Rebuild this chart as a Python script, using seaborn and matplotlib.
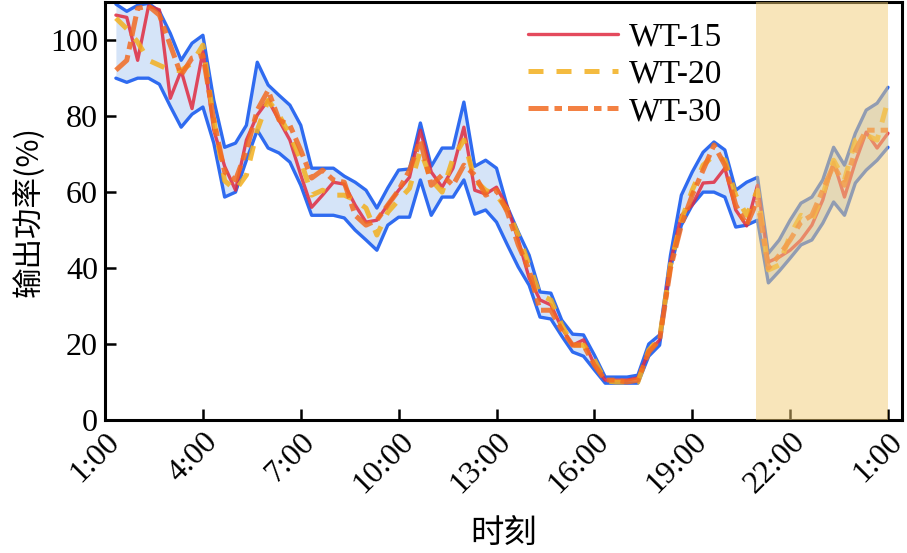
import numpy as np
import pandas as pd
import matplotlib
matplotlib.use("Agg")
import matplotlib.pyplot as plt
import seaborn as sns

# time in hours after 1:00, 20-minute steps from 1:20 to 1:00 next day
hours = [i / 3 for i in range(1, 73)]

upper = [109.5, 107.6, 109.2, 109.7, 107.6, 101.8, 94.7, 99.2, 101.3, 84.2,
         71.8, 72.9, 77.6, 94.2, 88.2, 85.5, 82.9, 77.6, 66.3, 66.3,
         66.3, 64.2, 62.6, 60.5, 55.8, 61.1, 65.8, 66.1, 78.2, 66.8,
         71.6, 71.6, 83.7, 66.8, 68.4, 66.3, 56.1, 49.5, 43.4, 33.7,
         33.4, 26.3, 22.6, 22.4, 17.1, 11.3, 11.3, 11.3, 11.8, 20.0,
         22.4, 43.4, 59.2, 65.3, 70.5, 73.2, 71.1, 60.5, 62.6, 63.9,
         43.9, 47.4, 52.6, 57.1, 58.7, 63.2, 71.8, 67.1, 75.5, 81.6,
         83.4, 87.6]

lower = [90.0, 88.9, 90.0, 90.0, 88.4, 82.6, 77.1, 80.5, 82.4, 72.9,
         58.7, 60.0, 68.4, 76.3, 71.6, 70.3, 67.9, 61.8, 53.9, 53.9,
         53.9, 53.2, 50.0, 47.4, 44.7, 51.3, 53.4, 53.4, 63.2, 53.9,
         58.7, 58.7, 63.2, 54.2, 55.3, 52.1, 46.1, 40.3, 35.5, 27.1,
         26.6, 22.1, 17.9, 16.8, 13.2, 9.7, 9.7, 9.7, 9.7, 16.8,
         19.7, 40.0, 51.3, 56.6, 60.0, 60.0, 58.7, 50.8, 51.3, 52.6,
         36.1, 39.2, 42.6, 46.1, 47.4, 51.8, 57.4, 53.9, 62.4, 65.8,
         68.4, 71.8]

wt15 = [106.6, 106.0, 94.7, 109.0, 108.0, 84.7, 92.0, 82.0, 97.0, 76.3,
        66.8, 60.5, 73.7, 80.3, 84.2, 78.9, 73.7, 64.5, 56.0, 59.2,
        62.6, 62.1, 56.6, 52.1, 52.6, 56.6, 60.5, 63.9, 76.3, 65.3,
        61.3, 66.3, 77.1, 60.5, 59.5, 61.3, 56.1, 47.4, 37.4, 31.6,
        30.3, 24.2, 19.7, 21.1, 14.5, 10.5, 10.5, 10.5, 11.1, 17.9,
        21.1, 41.6, 53.9, 56.6, 62.4, 62.6, 66.3, 55.3, 51.1, 61.8,
        41.6, 42.9, 44.7, 47.4, 51.3, 57.9, 67.9, 58.7, 67.9, 75.8,
        71.6, 75.5]

wt20 = [105.8, 103.0, 99.5, 94.7, 93.4, 92.1, 92.0, 94.0, 98.7, 79.0,
        63.0, 60.5, 64.5, 76.3, 84.2, 80.3, 75.0, 68.4, 59.2, 60.5,
        59.2, 59.2, 57.9, 55.8, 48.7, 54.7, 57.9, 61.0, 71.0, 63.2,
        60.0, 68.9, 73.7, 63.2, 60.5, 59.2, 55.3, 48.7, 40.8, 32.9,
        31.6, 25.0, 19.7, 19.7, 15.8, 10.3, 10.0, 10.0, 10.0, 18.4,
        21.6, 40.8, 52.6, 60.5, 67.1, 69.7, 68.4, 59.2, 53.9, 60.5,
        39.5, 40.8, 48.7, 53.9, 52.6, 59.2, 68.4, 63.2, 73.7, 75.0,
        73.7, 84.2]

wt30 = [92.1, 94.7, 108.4, 109.0, 106.6, 98.7, 90.8, 95.3, 96.0, 79.0,
        65.3, 63.2, 71.0, 81.6, 86.8, 79.0, 77.6, 71.0, 63.7, 65.8,
        63.2, 62.6, 53.9, 51.3, 52.6, 56.6, 60.5, 65.8, 73.7, 61.8,
        64.5, 61.8, 67.1, 64.5, 59.2, 60.5, 54.7, 46.1, 39.5, 28.9,
        28.9, 23.7, 19.7, 19.7, 14.5, 10.5, 10.5, 10.0, 10.5, 17.9,
        21.1, 40.0, 51.3, 59.2, 65.8, 72.4, 67.1, 56.6, 51.3, 57.9,
        40.0, 43.4, 47.4, 52.1, 53.9, 60.5, 67.1, 61.8, 71.0, 76.3,
        76.3, 76.3]

tick_hours = [0, 3, 6, 9, 12, 15, 18, 21, 24]
tick_labels = ["1:00", "4:00", "7:00", "10:00", "13:00", "16:00", "19:00", "22:00", "1:00"]
shade_range = [19.95, 24]

sns.set_style("ticks")
plt.rcParams["font.family"] = ["Liberation Serif", "Noto Sans CJK SC"]
plt.rcParams["axes.unicode_minus"] = False

fig = plt.figure(figsize=(9.07, 5.53), dpi=100)
ax = fig.add_axes([0.1158, 0.2405, 0.8787, 0.7555])

ax.fill_between(hours, lower, upper, color="#D5E4F8", zorder=1, linewidth=0)
sns.lineplot(x=hours, y=upper, ax=ax, color="#2F6BF0", lw=2.4, zorder=2)
sns.lineplot(x=hours, y=lower, ax=ax, color="#2F6BF0", lw=2.4, zorder=2)

sns.lineplot(x=hours, y=wt15, ax=ax, color="#E02A40", lw=2.4, alpha=0.85,
             label="WT-15", zorder=3)
sns.lineplot(x=hours, y=wt20, ax=ax, color="#F3B01E", lw=3.6, alpha=0.85,
             label="WT-20", zorder=3)
sns.lineplot(x=hours, y=wt30, ax=ax, color="#F26B22", lw=3.6, alpha=0.85,
             label="WT-30", zorder=3)
ax.lines[-1].set_dashes((4, 1.2, 1.5, 1.2))
ax.lines[-2].set_dashes((3, 2.6))

ax.axvspan(shade_range[0], shade_range[1], color="#F3CD76", alpha=0.5,
           zorder=4, linewidth=0)

ax.set_xlim(0, 24.43)
ax.set_ylim(0, 110)
ax.set_xticks(tick_hours)
ax.set_xticklabels(tick_labels, rotation=45, ha="right", rotation_mode="anchor")
ax.set_yticks([0, 20, 40, 60, 80, 100])
ax.tick_params(direction="in", length=8, width=1.8, labelsize=23,
               color="black", labelcolor="black", pad=5)
for s in ax.spines.values():
    s.set_linewidth(2.2)
    s.set_color("black")
    s.set_visible(True)

ax.set_xlabel("时刻", fontsize=24, family=["Noto Sans CJK SC"], labelpad=12,
              color="black")
ax.set_ylabel("输出功率(%)", fontsize=22, family=["Noto Sans CJK SC", "Liberation Serif"],
              labelpad=4, color="black")

leg = ax.legend(loc="upper left", bbox_to_anchor=(0.505, 1.0), frameon=False,
                fontsize=24, handlelength=2.7, labelspacing=0.2, handletextpad=0.35,
                borderaxespad=0.2)
for t in leg.get_texts():
    t.set_color("black")

fig.savefig("out.png", dpi=100)
